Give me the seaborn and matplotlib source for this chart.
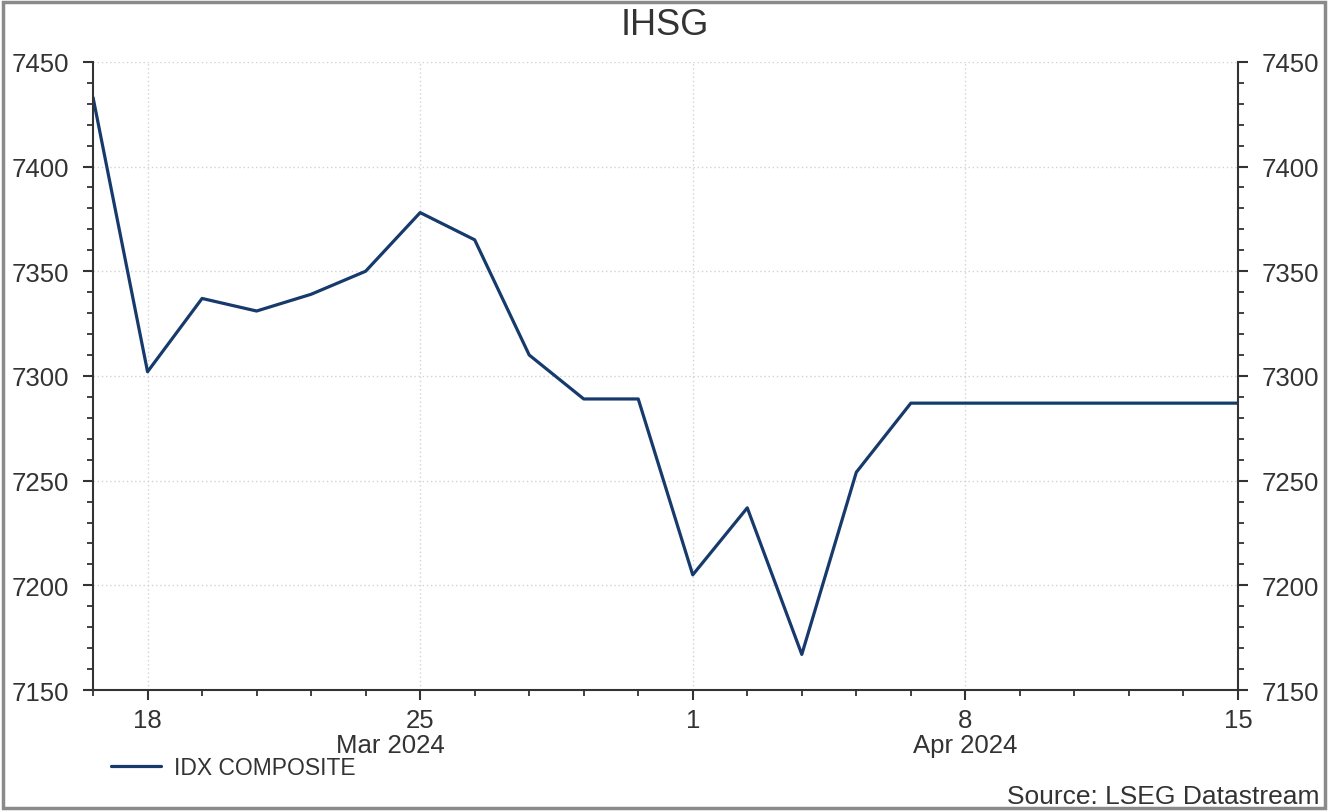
import pandas as pd
import numpy as np
import seaborn as sns
import matplotlib.pyplot as plt
from matplotlib.ticker import MultipleLocator, FixedLocator
from matplotlib.patches import Rectangle

# IDX composite closes, business days 15 Mar - 15 Apr 2024
dates = pd.bdate_range("2024-03-15", "2024-04-15")
closes = [7433, 7302, 7337, 7331, 7339, 7350, 7378, 7365, 7310, 7289, 7289,
          7205, 7237, 7167, 7254, 7287, 7287, 7287, 7287, 7287, 7287, 7287]
major_days = ["2024-03-18", "2024-03-25", "2024-04-01", "2024-04-08", "2024-04-15"]
major_labels = ["18", "25", "1", "8", "15"]
month_labels = ["Mar 2024", "Apr 2024"]
month_pos = ["2024-03-22", "2024-04-08"]

df = pd.DataFrame({"date": dates, "close": closes})
df["idx"] = np.arange(len(df))
pos = {d: i for i, d in enumerate(dates)}

sns.set_style("white")
plt.rcParams['font.family'] = ['Liberation Sans', 'DejaVu Sans']

fig = plt.figure(figsize=(13.29, 8.12), dpi=100)
ax = fig.add_axes([0.070, 0.149, 0.8615, 0.7736])

sns.lineplot(data=df, x="idx", y="close", ax=ax, color="#173a6c", linewidth=2.3,
             label="IDX COMPOSITE", legend=False)

ax.set_xlim(0, len(df) - 1)
ax.set_ylim(7150, 7450)
ax.set_xlabel("")
ax.set_ylabel("")

maj = [pos[pd.Timestamp(d)] for d in major_days]
ax.xaxis.set_major_locator(FixedLocator(maj))
ax.set_xticklabels(major_labels)
ax.xaxis.set_minor_locator(FixedLocator(df["idx"].tolist()))
ax.yaxis.set_major_locator(MultipleLocator(50))
ax.yaxis.set_minor_locator(MultipleLocator(10))

ax.grid(True, which="major", linestyle=(0, (1, 2)), color="#d2d2d2", linewidth=1)
ax.spines["top"].set_visible(False)
for s in ["left", "bottom", "right"]:
    ax.spines[s].set_color("#333333")
    ax.spines[s].set_linewidth(1.5)

ax.tick_params(axis="both", which="major", direction="out", length=7, width=1.5,
               color="#333333", labelsize=18.5, labelcolor="#333333")
ax.tick_params(axis="both", which="minor", direction="out", length=4, width=1.3,
               color="#333333")
ax.tick_params(axis="y", which="both", left=True, right=True, labelleft=True,
               labelright=True, pad=10)
ax.tick_params(axis="x", which="both", bottom=True, pad=6)

for lab, d in zip(month_labels, month_pos):
    ax.text(pos[pd.Timestamp(d)] + (0.45 if lab.startswith("Mar") else 0), -0.087, lab,
            transform=ax.get_xaxis_transform(), ha="center", va="center",
            fontsize=18.5, color="#333333")

fig.text(0.5, 0.968, "IHSG", ha="center", va="center", fontsize=26, color="#333333")

leg = ax.legend(handles=ax.get_lines()[:1], labels=["IDX COMPOSITE"],
                loc="center left", bbox_to_anchor=(0.068, 0.054),
                bbox_transform=fig.transFigure, frameon=False, fontsize=16.5,
                handlelength=2.2, handletextpad=0.55)
for t in leg.get_texts():
    t.set_color("#333333")

fig.text(0.993, 0.018, "Source: LSEG Datastream", ha="right", va="center",
         fontsize=19, color="#333333")

fig.patches.append(Rectangle((0.002, 0.004), 0.995, 0.992, transform=fig.transFigure,
                             fill=False, edgecolor="#8a8a8a", linewidth=2.5))

fig.savefig("out.png", dpi=100)
